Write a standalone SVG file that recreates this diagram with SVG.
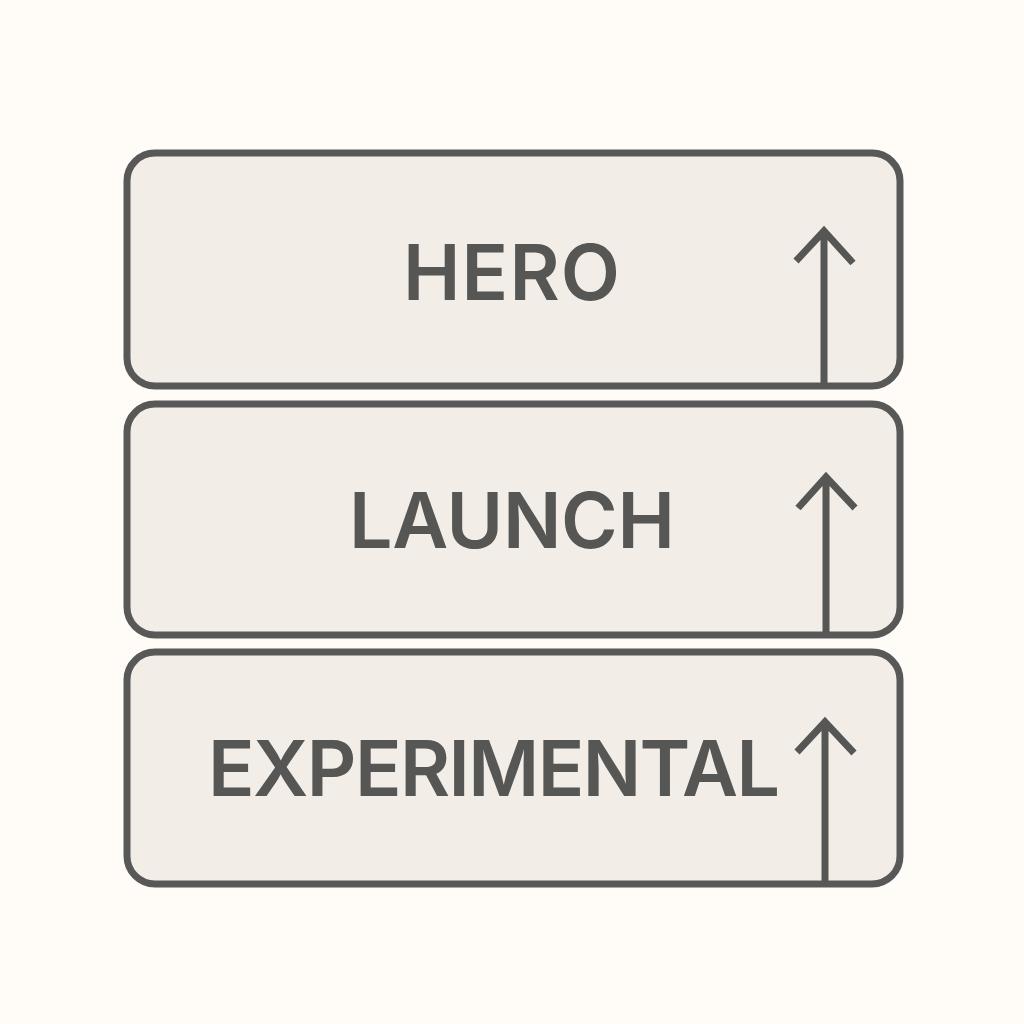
<svg xmlns="http://www.w3.org/2000/svg" width="1024" height="1024" viewBox="0 0 1024 1024">
<style>
.box{fill:#f2ede7;stroke:#585858;stroke-width:7}
.lbl{font-family:"Inter","Liberation Sans",sans-serif;font-weight:600;fill:#565655;font-size:77px}
.arr{fill:none;stroke:#565655;stroke-width:7}
</style>
<rect width="1024" height="1024" fill="#fffcf8"/>
<g id="node-hero"><rect class="box" x="127" y="153" width="773" height="233" rx="28"/><text class="lbl" x="403" y="300" textLength="217" lengthAdjust="spacing">HERO</text></g>
<g id="node-launch"><rect class="box" x="127" y="404" width="773" height="231" rx="28"/><text class="lbl" x="349" y="548" textLength="326" lengthAdjust="spacing">LAUNCH</text></g>
<g id="node-experimental"><rect class="box" x="127" y="652" width="773" height="232" rx="28"/><text class="lbl" x="208" y="796" textLength="572" lengthAdjust="spacing">EXPERIMENTAL</text></g>
<g id="connectors">
<path class="arr" d="M824 384V231M796 261L824 231L853 263"/>
<path class="arr" d="M826 633V477M798 508L826 477L855 508"/>
<path class="arr" d="M825 882V722M797 752L825 722L854 753"/>
</g>
</svg>
